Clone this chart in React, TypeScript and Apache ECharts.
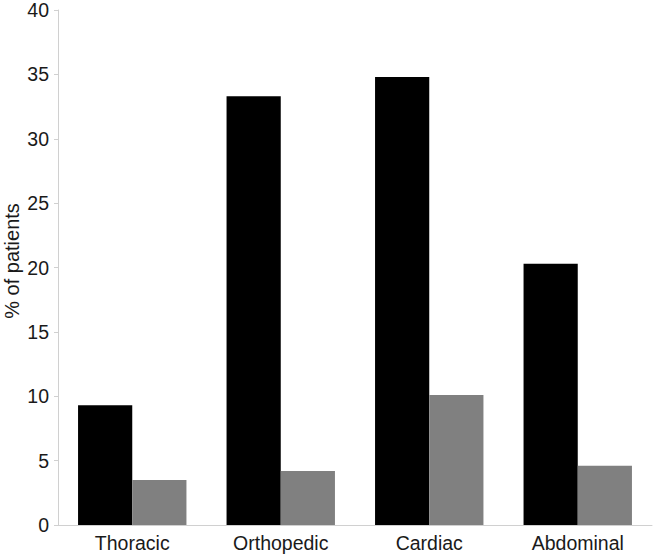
import React, { useEffect, useRef } from "react";
import * as echarts from "echarts";

const categories = ["Thoracic", "Orthopedic", "Cardiac", "Abdominal"];
const seriesA = [9.3, 33.3, 34.8, 20.3];
const seriesB = [3.5, 4.2, 10.1, 4.6];
const yTicks = { min: 0, max: 40, interval: 5 };
const yName = "% of patients";

export default function App() {
  const ref = useRef<HTMLDivElement>(null);
  useEffect(() => {
    if (!ref.current) return;
    const chart = echarts.init(ref.current, null, { renderer: "svg" });
    const font = "'Liberation Sans', Arial, Helvetica, sans-serif";
    chart.setOption({
      animation: false,
      backgroundColor: "#ffffff",
      grid: { left: 58, right: 3, top: 9, bottom: 29, containLabel: false },
      xAxis: {
        type: "category",
        data: categories,
        axisLine: { show: true, lineStyle: { color: "#d0d0d0", width: 1 } },
        axisTick: { show: false },
        axisLabel: { color: "#1a1a1a", fontSize: 19.5, fontFamily: font, margin: 8 },
      },
      yAxis: {
        type: "value",
        min: yTicks.min,
        max: yTicks.max,
        interval: yTicks.interval,
        axisLine: { show: true, lineStyle: { color: "#d0d0d0", width: 1 } },
        axisTick: { show: true, length: 4, lineStyle: { color: "#d0d0d0" } },
        splitLine: { show: false },
        axisLabel: { color: "#1a1a1a", fontSize: 19.5, fontFamily: font, margin: 9 },
      },
      graphic: [
        {
          type: "text",
          x: 12,
          y: 261,
          rotation: Math.PI / 2,
          style: {
            text: yName,
            fill: "#1a1a1a",
            fontSize: 20,
            fontFamily: font,
            textAlign: "center",
            textVerticalAlign: "middle",
          },
        },
      ],
      series: [
        {
          type: "bar",
          data: seriesA,
          itemStyle: { color: "#000000" },
          barGap: "0%",
          barCategoryGap: "27%",
        },
        {
          type: "bar",
          data: seriesB,
          itemStyle: { color: "#808080" },
          barGap: "0%",
          barCategoryGap: "27%",
        },
      ],
    });
    return () => chart.dispose();
  }, []);
  return <div ref={ref} style={{ width: 655, height: 554, position: "absolute", left: 0, top: 0 }} />;
}
